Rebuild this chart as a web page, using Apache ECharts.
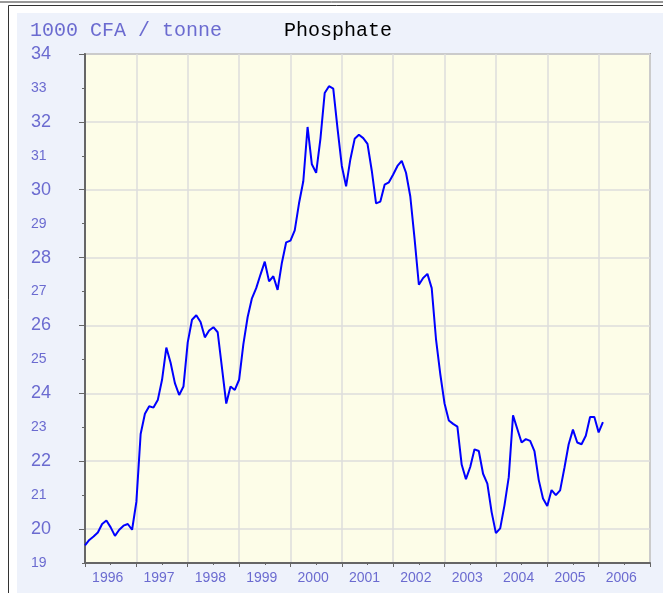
<!DOCTYPE html>
<html>
<head>
<meta charset="utf-8">
<script src="https://cdn.jsdelivr.net/npm/echarts@6/dist/echarts.min.js"></script>
<style>
  html, body { margin: 0; padding: 0; background: #fff; }
  #chart { width: 663px; height: 593px; }
</style>
</head>
<body>
<div id="chart"></div>
<script>
// year labels on the x axis
const years = ['1996', '1997', '1998', '1999', '2000', '2001', '2002', '2003', '2004', '2005', '2006']

// monthly price, 1000 CFA / tonne (Jan..Dec)
const p1996 = [19.52, 19.68, 19.78, 19.9, 20.15, 20.25, 20.05, 19.8, 19.98, 20.1, 20.15, 19.98]
const p1997 = [20.8, 22.8, 23.4, 23.62, 23.58, 23.8, 24.4, 25.35, 24.9, 24.3, 23.95, 24.2]
const p1998 = [25.5, 26.17, 26.3, 26.1, 25.65, 25.85, 25.95, 25.8, 24.75, 23.7, 24.2, 24.1]
const p1999 = [24.4, 25.45, 26.25, 26.8, 27.1, 27.5, 27.88, 27.3, 27.45, 27.05, 27.85, 28.45]
const p2000 = [28.5, 28.8, 29.6, 30.25, 31.85, 30.75, 30.5, 31.5, 32.85, 33.05, 32.98, 31.8]
const p2001 = [30.7, 30.1, 30.9, 31.5, 31.62, 31.52, 31.35, 30.56, 29.6, 29.65, 30.15, 30.22]
const p2002 = [30.45, 30.7, 30.85, 30.5, 29.8, 28.55, 27.2, 27.4, 27.52, 27.1, 25.6, 24.57]
const p2003 = [23.7, 23.2, 23.1, 23.02, 21.9, 21.47, 21.83, 22.35, 22.3, 21.63, 21.34, 20.5]
const p2004 = [19.88, 20.02, 20.7, 21.53, 23.35, 22.95, 22.55, 22.65, 22.6, 22.3, 21.45, 20.9]
const p2005 = [20.68, 21.15, 21.0, 21.14, 21.8, 22.5, 22.93, 22.55, 22.5, 22.75, 23.3, 23.3]
const p2006 = [22.85, 23.15]

const monthly = [p1996, p1997, p1998, p1999, p2000, p2001, p2002, p2003, p2004, p2005, p2006]

const points = []
monthly.forEach((arr, i) => {
  arr.forEach((v, m) => {
    points.push([1996 + i + m / 12, v])
  })
})

const labelColor = '#6b6bd0'
const axisColor = '#666'

const chart = echarts.init(document.getElementById('chart'))
chart.setOption({
  animation: false,
  backgroundColor: '#fff',
  graphic: [
    { type: 'line', shape: { x1: 0, y1: 2, x2: 663, y2: 2 }, style: { stroke: '#333', lineWidth: 1 } },
    { type: 'rect', shape: { x: 8.5, y: 5.5, width: 700, height: 700 }, style: { fill: '#fff', stroke: '#333', lineWidth: 1 }, z: -10 },
    { type: 'rect', shape: { x: 17, y: 13, width: 660, height: 600 }, style: { fill: '#eef2fb' }, z: -9 },
    {
      type: 'text',
      x: 30,
      y: 31,
      style: {
        text: '1000 CFA / tonne',
        fill: labelColor,
        font: '20px "Liberation Mono"',
        textVerticalAlign: 'middle'
      }
    },
    {
      type: 'text',
      x: 284,
      y: 31,
      style: {
        text: 'Phosphate',
        fill: '#000',
        font: '20px "Liberation Mono"',
        textVerticalAlign: 'middle'
      }
    }
  ],
  grid: {
    left: 85,
    right: 13,
    top: 54,
    bottom: 30,
    show: true,
    backgroundColor: '#fdfde8',
    borderColor: '#999',
    borderWidth: 2
  },
  xAxis: [
    {
      type: 'value',
      min: 1996,
      max: 2007,
      interval: 1,
      axisLine: { show: true, onZero: false, lineStyle: { color: axisColor, width: 2 } },
      axisTick: { show: true, length: 4, lineStyle: { color: axisColor, width: 1 } },
      minorTick: { show: true, splitNumber: 2, length: 2, lineStyle: { color: axisColor } },
      axisLabel: { show: false },
      splitLine: { show: true, lineStyle: { color: '#dcdcdc', width: 1.5 } }
    },
    {
      type: 'category',
      data: years,
      position: 'bottom',
      boundaryGap: true,
      axisLine: { show: false },
      axisTick: { show: false },
      splitLine: { show: false },
      axisLabel: {
        color: labelColor,
        fontFamily: 'Liberation Sans',
        fontSize: 14,
        margin: 8,
        padding: [0, 6, 0, 0]
      }
    }
  ],
  yAxis: [
    {
      type: 'value',
      min: 19,
      max: 34,
      interval: 1,
      axisLine: { show: true, onZero: false, lineStyle: { color: axisColor, width: 2 } },
      axisTick: {
        show: true,
        length: 6,
        customValues: [20, 22, 24, 26, 28, 30, 32, 34],
        lineStyle: { color: axisColor }
      },
      splitLine: { show: true, lineStyle: { color: '#dcdcdc', width: 1.5 } },
      axisLabel: {
        align: 'left',
        margin: 54,
        color: labelColor,
        fontFamily: 'Liberation Sans',
        formatter: v => (v % 2 === 0 ? '{b|' + v + '}' : '{s|' + v + '}'),
        rich: {
          b: { fontSize: 18, color: labelColor, fontFamily: 'Liberation Sans' },
          s: { fontSize: 14, color: labelColor, fontFamily: 'Liberation Sans' }
        }
      }
    },
    {
      type: 'value',
      min: 19,
      max: 34,
      interval: 1,
      position: 'left',
      axisLine: { show: false },
      axisTick: { show: true, length: 3, lineStyle: { color: axisColor } },
      axisLabel: { show: false },
      splitLine: { show: false }
    }
  ],
  series: [
    {
      type: 'line',
      xAxisIndex: 0,
      yAxisIndex: 0,
      data: points,
      showSymbol: false,
      lineStyle: { color: '#0000ff', width: 2 },
      z: 5
    }
  ]
})
</script>
</body>
</html>
